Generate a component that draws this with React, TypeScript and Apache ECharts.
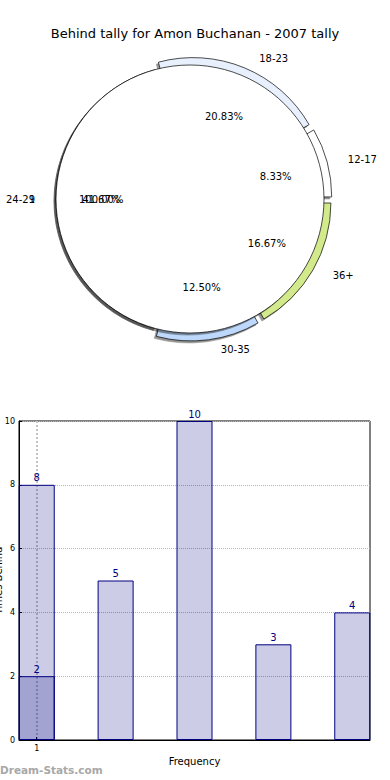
import React, { useEffect, useRef } from "react";
import * as echarts from "echarts";

const ageGroups = ["12-17", "18-23", "24-29", "30-35", "36+"];
const ageCounts = [2, 5, 10, 3, 4];
const ageColors = ["#ffffff", "#e8f0fd", "#9a9a9a", "#bdd8fa", "#d2ea8c"];
const explodedGroups = ["12-17", "18-23", "30-35", "36+"];
const wholeName = "1";
const wholeValue = 1;

const barPositions = [1, 2, 3, 4, 5];
const barValues = [8, 5, 10, 3, 4];
const overlayPositions = [1];
const overlayValues = [2];
const xTickValues = [1];
const yTicks = [0, 2, 4, 6, 8, 10];

const FONT = "DejaVu Sans";

export default function App() {
  const ref = useRef<HTMLDivElement>(null);
  useEffect(() => {
    if (!ref.current) return;
    const chart = echarts.init(ref.current, null, { renderer: "svg" });
    const shadow = {
      shadowColor: "rgba(0,0,0,0.42)",
      shadowBlur: 0,
      shadowOffsetX: -2,
      shadowOffsetY: 2,
    };
    const pieCenter = [190, 199];
    const pieR = 134;
    const noHide = { hideOverlap: false };
    const option: any = {
      animation: false,
      textStyle: { fontFamily: FONT },
      title: {
        text: "Behind tally for Amon Buchanan - 2007 tally",
        left: "center",
        top: 22,
        textStyle: { fontFamily: FONT, fontSize: 13, fontWeight: "normal", color: "#000" },
      },
      graphic: [
        {
          type: "text",
          left: 0,
          top: 764,
          style: {
            text: "Dream-Stats.com",
            fill: "#a8a8a8",
            font: `bold 10.5px "${FONT}"`,
          },
        },
      ],
      grid: {
        left: 19,
        right: 20,
        top: 421,
        bottom: 40,
        show: true,
        borderColor: "#000",
        borderWidth: 1,
        containLabel: false,
        outerBoundsMode: "none",
      },
      xAxis: {
        type: "value",
        min: 0.775,
        max: 5.225,
        name: "Frequency",
        nameLocation: "middle",
        nameGap: 16,
        nameMoveOverlap: false,
        nameTextStyle: { fontFamily: FONT, fontSize: 10, color: "#000" },
        axisLine: { show: true, lineStyle: { color: "#000" } },
        axisTick: { show: true, inside: true, length: 3, customValues: xTickValues, lineStyle: { color: "#000" } },
        axisLabel: {
          customValues: xTickValues,
          fontFamily: FONT,
          fontSize: 8,
          color: "#000",
          margin: 4,
        },
        splitLine: {
          show: true,
          lineStyle: { type: "dotted", color: "#c4c4c4", width: 2 },
        },
      },
      yAxis: {
        type: "value",
        min: 0,
        max: 10,
        interval: 2,
        name: "Times Behind",
        nameLocation: "middle",
        nameGap: 16,
        nameMoveOverlap: false,
        nameTextStyle: { fontFamily: FONT, fontSize: 10, color: "#000" },
        axisLine: { show: true, lineStyle: { color: "#000" } },
        axisTick: { show: true, inside: true, length: 3, lineStyle: { color: "#000" } },
        axisLabel: {
          fontFamily: FONT,
          fontSize: 8,
          color: "#000",
          margin: 4,
          customValues: yTicks,
        },
        splitLine: {
          show: true,
          lineStyle: { type: "dotted", color: "#b5b5b5", width: 1 },
        },
      },
      series: [
        {
          type: "pie",
          name: "ages",
          z: 2,
          center: pieCenter,
          radius: [0, pieR],
          startAngle: 0,
          clockwise: false,
          selectedMode: "multiple",
          selectedOffset: 8,
          avoidLabelOverlap: false,
          labelLayout: noHide,
          silent: true,
          itemStyle: { borderColor: "#000", borderWidth: 0.7, ...shadow },
          label: {
            show: true,
            position: "outside",
            formatter: "{b}",
            fontFamily: FONT,
            fontSize: 10,
            color: "#000",
          },
          labelLine: { show: false, length: 10, length2: 6 },
          data: ageGroups.map((name, i) => ({
            name,
            value: ageCounts[i],
            selected: explodedGroups.includes(name),
            itemStyle: { color: ageColors[i] },
          })),
        },
        {
          type: "pie",
          name: "whole",
          z: 3,
          center: pieCenter,
          radius: [0, pieR],
          startAngle: 0,
          clockwise: false,
          avoidLabelOverlap: false,
          labelLayout: noHide,
          silent: true,
          itemStyle: { color: "#fff", borderColor: "#000", borderWidth: 0.7, ...shadow },
          label: {
            show: true,
            position: "outside",
            formatter: "{b}",
            fontFamily: FONT,
            fontSize: 10,
            color: "#000",
          },
          labelLine: { show: false, length: 10, length2: 6 },
          data: [{ name: wholeName, value: wholeValue }],
        },
        {
          type: "pie",
          name: "agesPct",
          z: 5,
          center: pieCenter,
          radius: [0, pieR * 1.28],
          startAngle: 0,
          clockwise: false,
          silent: true,
          avoidLabelOverlap: false,
          labelLayout: noHide,
          itemStyle: { color: "rgba(0,0,0,0)", borderWidth: 0 },
          label: {
            show: true,
            position: "inside",
            formatter: (p: any) => p.percent.toFixed(2) + "%",
            fontFamily: FONT,
            fontSize: 10,
            color: "#000",
          },
          labelLine: { show: false },
          data: ageGroups.map((name, i) => ({ name, value: ageCounts[i] })),
        },
        {
          type: "pie",
          name: "wholePct",
          z: 5,
          center: pieCenter,
          radius: [0, pieR * 1.28],
          startAngle: 0,
          clockwise: false,
          silent: true,
          avoidLabelOverlap: false,
          labelLayout: noHide,
          itemStyle: { color: "rgba(0,0,0,0)", borderWidth: 0 },
          label: {
            show: true,
            position: "inside",
            formatter: (p: any) => p.percent.toFixed(2) + "%",
            fontFamily: FONT,
            fontSize: 10,
            color: "#000",
          },
          labelLine: { show: false },
          data: [{ name: wholeName, value: wholeValue }],
        },
        {
          type: "bar",
          name: "frequency",
          barWidth: 36,
          barGap: "-100%",
          itemStyle: { color: "rgba(0,0,128,0.2)", borderColor: "#000080", borderWidth: 1 },
          label: {
            show: true,
            position: "top",
            distance: 2,
            fontFamily: FONT,
            fontSize: 10,
            color: "#000080",
          },
          data: barPositions.map((x, i) => [x, barValues[i]]),
        },
        {
          type: "bar",
          name: "overlay",
          barWidth: 36,
          barGap: "-100%",
          itemStyle: { color: "rgba(0,0,128,0.2)", borderColor: "#000080", borderWidth: 1 },
          label: {
            show: true,
            position: "top",
            distance: 2,
            fontFamily: FONT,
            fontSize: 10,
            color: "#000080",
          },
          data: overlayPositions.map((x, i) => [x, overlayValues[i]]),
        },
      ],
    };
    chart.setOption(option);
    return () => chart.dispose();
  }, []);
  return (
    <div
      ref={ref}
      style={{ position: "fixed", left: 0, top: 0, width: 390, height: 780, background: "#fff" }}
    />
  );
}
